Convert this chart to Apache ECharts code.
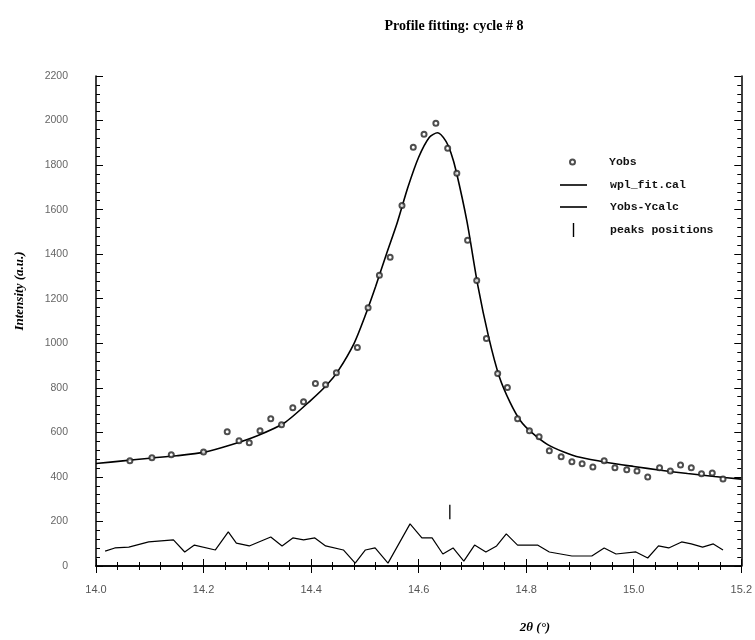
<!DOCTYPE html>
<html>
<head>
<meta charset="utf-8">
<script src="https://cdn.jsdelivr.net/npm/echarts@6/dist/echarts.min.js"></script>
<style>
  html, body { margin: 0; padding: 0; background: #fff; }
  #main { width: 755px; height: 640px; }
</style>
</head>
<body>
<div id="main"></div>
<script>
  // observed points (Yobs)
  var obsX = [14.063, 14.104, 14.140, 14.200, 14.244, 14.266, 14.285, 14.305, 14.325, 14.345,
              14.366, 14.386, 14.408, 14.427, 14.447, 14.486, 14.506, 14.527, 14.547, 14.569,
              14.590, 14.610, 14.632, 14.654, 14.671, 14.691, 14.708, 14.726, 14.747, 14.765,
              14.784, 14.806, 14.824, 14.843, 14.865, 14.885, 14.904, 14.924, 14.945, 14.965,
              14.987, 15.006, 15.026, 15.048, 15.068, 15.087, 15.107, 15.126, 15.146, 15.166];
  var obsY = [472, 486, 499, 512, 603, 562, 553, 607, 661, 634,
              711, 738, 819, 814, 868, 981, 1160, 1305, 1386, 1619,
              1880, 1939, 1988, 1876, 1763, 1462, 1282, 1021, 864, 801,
              661, 607, 580, 517, 490, 468, 459, 445, 472, 441,
              432, 427, 400, 441, 427, 454, 441, 414, 418, 391];

  // fitted profile (wpl_fit.cal)
  var fitX = [14.0, 14.05, 14.1, 14.15, 14.2, 14.25, 14.3, 14.35, 14.4, 14.43,
              14.45, 14.48, 14.5, 14.52, 14.54, 14.56, 14.58, 14.6, 14.62, 14.635,
              14.65, 14.66, 14.67, 14.69, 14.71, 14.73, 14.75, 14.77, 14.79, 14.81,
              14.84, 14.87, 14.9, 14.95, 15.0, 15.05, 15.1, 15.15, 15.2];
  var fitY = [460, 472, 484, 495, 510, 543, 585, 642, 745, 815,
              875, 1000, 1120, 1255, 1400, 1540, 1700, 1835, 1925, 1945,
              1910, 1855, 1770, 1545, 1260, 1030, 850, 735, 650, 600,
              545, 512, 488, 465, 447, 430, 415, 402, 390];

  // difference curve (Yobs-Ycalc), shifted
  var diffX = [14.017, 14.035, 14.061, 14.098, 14.144, 14.165, 14.183, 14.222, 14.246, 14.261,
               14.285, 14.325, 14.346, 14.366, 14.386, 14.407, 14.427, 14.460, 14.482, 14.501,
               14.519, 14.543, 14.584, 14.606, 14.625, 14.645, 14.664, 14.684, 14.704, 14.725,
               14.745, 14.763, 14.784, 14.821, 14.843, 14.885, 14.922, 14.945, 14.967, 15.004,
               15.026, 15.046, 15.065, 15.089, 15.107, 15.128, 15.148, 15.166];
  var diffY = [67, 81, 85, 108, 117, 63, 94, 72, 153, 103,
               90, 130, 90, 126, 117, 126, 90, 72, 13, 72,
               81, 13, 189, 126, 126, 54, 81, 22, 94, 63,
               90, 144, 94, 94, 63, 45, 45, 81, 54, 63,
               36, 90, 81, 108, 99, 85, 99, 72];

  // peak position marker
  var peakX = 14.658;
  var peakLow = 210, peakHigh = 275;

  function zip(xs, ys) {
    return xs.map(function (x, i) { return [x, ys[i]]; });
  }

  var chart = echarts.init(document.getElementById('main'));

  var tick = { show: true, inside: true, length: 7, lineStyle: { color: '#000', width: 1 } };
  var minor = { show: true, splitNumber: 5, length: 4, lineStyle: { color: '#000', width: 1 } };
  var line = { show: true, lineStyle: { color: '#000', width: 1.5 } };
  var legendText = { fontFamily: 'Liberation Mono', fontWeight: 'bold', fontSize: 11.5, color: '#111', padding: [0, 0, 0, 18] };

  var option = {
    animation: false,
    backgroundColor: '#fff',
    title: {
      text: 'Profile fitting: cycle # 8',
      left: 449, top: 14, textAlign: 'center',
      textStyle: { fontFamily: 'Liberation Serif', fontWeight: 'bold', fontSize: 14, color: '#000' }
    },
    grid: { left: 96, right: 7, top: 76, bottom: 74 },
    legend: [
      {
        data: [{ name: 'Yobs', icon: 'emptyCircle' }], left: 564, top: 151, itemWidth: 27, itemHeight: 5,
        selectedMode: false, textStyle: legendText
      },
      {
        data: [
          { name: 'wpl_fit.cal', icon: 'path://M0,0h20v1.2h-20z' },
          { name: 'Yobs-Ycalc', icon: 'path://M0,0h20v1.2h-20z' },
          { name: 'peaks positions', icon: 'path://M0,0h1v10h-1z' }
        ],
        orient: 'vertical', left: 555, top: 174, itemWidth: 27, itemHeight: 14, itemGap: 10,
        selectedMode: false, textStyle: legendText
      }
    ],
    xAxis: [
      {
        type: 'value', min: 14.0, max: 15.2, interval: 0.2, position: 'bottom',
        axisLine: line, axisTick: tick, minorTick: minor, splitLine: { show: false },
        axisLabel: {
          margin: 18, fontSize: 11, color: '#555', fontFamily: 'Liberation Sans',
          formatter: function (v) { return v.toFixed(1); }
        }
      },
      {
        type: 'value', min: 14.0, max: 15.2, interval: 0.2, position: 'top',
        axisLine: line, axisTick: tick, minorTick: minor, splitLine: { show: false },
        axisLabel: { show: false }
      }
    ],
    yAxis: [
      {
        type: 'value', min: 0, max: 2200, interval: 200, position: 'left',
        axisLine: line, axisTick: tick, minorTick: minor, splitLine: { show: false },
        axisLabel: {
          margin: 28, fontSize: 10.5, color: '#666', fontFamily: 'Liberation Sans',
          formatter: function (v) { return String(v); }
        }
      },
      {
        type: 'value', min: 0, max: 2200, interval: 200, position: 'right',
        axisLine: line, axisTick: tick, minorTick: minor, splitLine: { show: false },
        axisLabel: { show: false }
      }
    ],
    graphic: [
      {
        type: 'text', x: 20, y: 291, rotation: Math.PI / 2,
        style: {
          text: 'Intensity (a.u.)', textAlign: 'center', textVerticalAlign: 'middle',
          font: 'italic bold 13px "Liberation Serif"', fill: '#000'
        }
      },
      {
        type: 'text', x: 535, y: 628,
        style: {
          text: '2θ (°)', textAlign: 'center', textVerticalAlign: 'middle',
          font: 'italic bold 13px "Liberation Serif"', fill: '#000'
        }
      }
    ],
    series: [
      {
        name: 'Yobs', type: 'scatter', symbol: 'emptyCircle', symbolSize: 5,
        itemStyle: { color: '#222', borderWidth: 0.9 },
        data: zip(obsX, obsY), z: 3
      },
      {
        name: 'wpl_fit.cal', type: 'line', symbol: 'none', smooth: 0.25,
        lineStyle: { color: '#000', width: 1.6 }, itemStyle: { color: '#000' },
        data: zip(fitX, fitY)
      },
      {
        name: 'Yobs-Ycalc', type: 'line', symbol: 'none',
        lineStyle: { color: '#000', width: 1.2 }, itemStyle: { color: '#000' },
        data: zip(diffX, diffY)
      },
      {
        name: 'peaks positions', type: 'line', symbol: 'none',
        lineStyle: { color: '#000', width: 1.3 }, itemStyle: { color: '#000' },
        data: [[peakX, peakLow], [peakX, peakHigh]]
      }
    ]
  };

  chart.setOption(option);
</script>
</body>
</html>
